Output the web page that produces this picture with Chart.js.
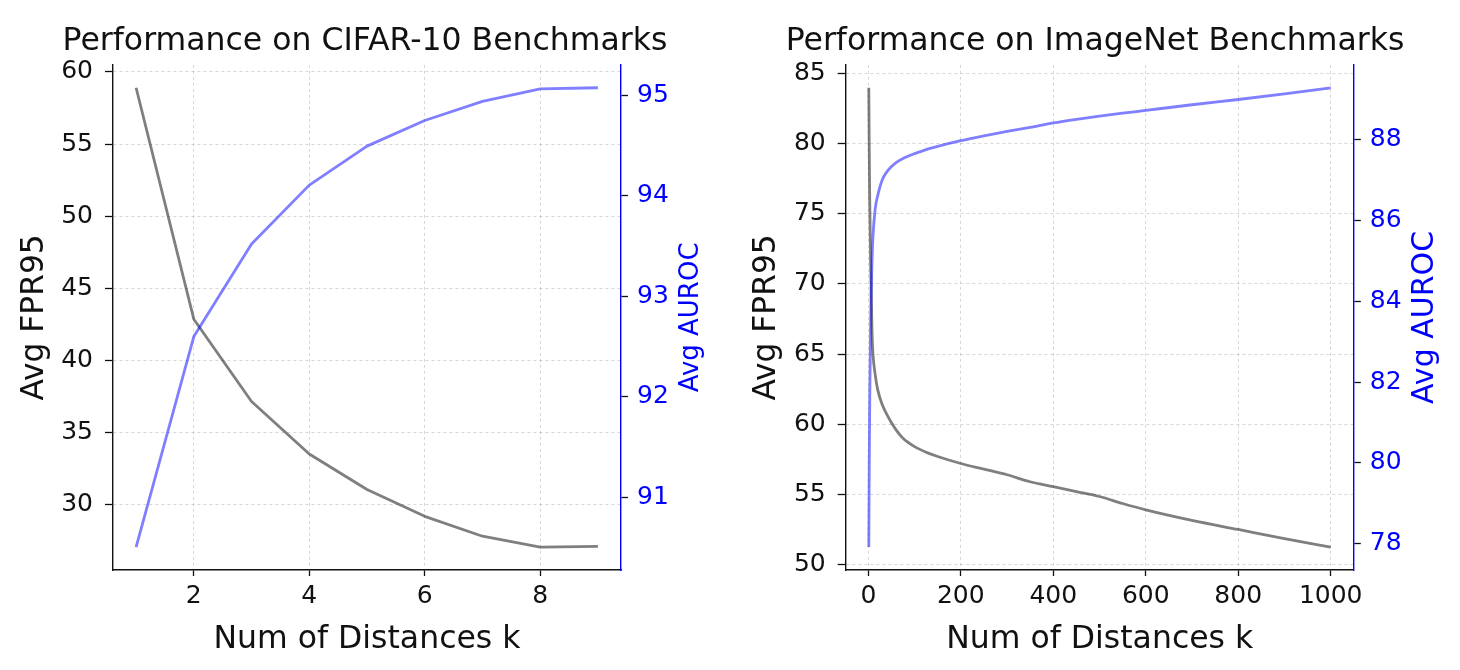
<!DOCTYPE html>
<html>
<head>
<meta charset="utf-8">
<script src="https://cdn.jsdelivr.net/npm/chart.js@4.4.1/dist/chart.umd.min.js"></script>
<style>
  html, body { margin: 0; padding: 0; background: #fff; }
  #wrap { display: flex; width: 1460px; height: 670px; }
  canvas { display: block; }
</style>
</head>
<body>
<div id="wrap">
  <canvas id="cifar" width="730" height="670"></canvas>
  <canvas id="imagenet" width="730" height="670"></canvas>
</div>
<script>
// CIFAR-10
const cifarK = [1, 2, 3, 4, 5, 6, 7, 8, 9];
const cifarFpr = [58.9, 42.85, 37.14, 33.5, 31.04, 29.18, 27.8, 27.05, 27.1];
const cifarAuroc = [90.505, 92.6, 93.52, 94.107, 94.495, 94.75, 94.94, 95.065, 95.076];
const cifarXTicks = [2, 4, 6, 8];
const cifarFprTicks = [30, 35, 40, 45, 50, 55, 60];
const cifarAurocTicks = [91, 92, 93, 94, 95];

// ImageNet
const imagenetK = [1, 2, 3, 5, 8, 10, 15, 20, 30, 40, 50, 60, 75, 100, 125, 150, 200, 250, 300, 350, 400, 450, 500, 550, 600, 700, 800, 900, 1000];
const imagenetFpr = [83.97, 79.5, 76.0, 71.5, 66.5, 65.0, 63.5, 62.5, 61.4, 60.7, 60.1, 59.6, 59.0, 58.4, 58.0, 57.7, 57.2, 56.8, 56.4, 55.9, 55.55, 55.2, 54.85, 54.35, 53.9, 53.15, 52.5, 51.85, 51.25];
const imagenetAuroc = [77.92, 80.0, 81.5, 83.5, 85.0, 85.6, 86.3, 86.6, 87.0, 87.2, 87.33, 87.43, 87.53, 87.65, 87.75, 87.83, 87.97, 88.09, 88.2, 88.3, 88.41, 88.5, 88.58, 88.65, 88.72, 88.86, 88.99, 89.13, 89.28];
const imagenetXTicks = [0, 200, 400, 600, 800, 1000];
const imagenetFprTicks = [50, 55, 60, 65, 70, 75, 80, 85];
const imagenetAurocTicks = [78, 80, 82, 84, 86, 88];

Chart.defaults.font.family = "'DejaVu Sans', sans-serif";
Chart.defaults.font.size = 25;
Chart.defaults.color = "#111";

const GRAY = "rgba(0,0,0,0.5)";
const BLUE_LINE = "rgba(0,0,255,0.5)";
const BLUE = "#0000ff";
const GRID = "rgba(0,0,0,0.2)";
const INK = "#111";

// same 5% margins matplotlib uses
function padRange(vals) {
  const lo = Math.min(...vals), hi = Math.max(...vals);
  const m = (hi - lo) * 0.05;
  return { min: lo - m, max: hi + m };
}

function fixedTicks(arr) {
  return (scale) => { scale.ticks = arr.map(v => ({ value: v })); };
}

// right y title reads bottom-to-top, like matplotlib
const rightTitle = {
  id: "rightTitle",
  afterDraw(chart, args, opts) {
    const { ctx, chartArea } = chart;
    ctx.save();
    ctx.translate(opts.x, (chartArea.top + chartArea.bottom) / 2);
    ctx.rotate(-Math.PI / 2);
    ctx.font = opts.size + "px 'DejaVu Sans', sans-serif";
    ctx.fillStyle = BLUE;
    ctx.textAlign = "center";
    ctx.textBaseline = "middle";
    ctx.fillText(opts.text, 0, 0);
    ctx.restore();
  }
};

function makeChart(id, s) {
  const xr = padRange(s.k), yr = padRange(s.fpr), y1r = padRange(s.auroc);
  // monotone smoothing for the dense ImageNet sweep, straight segments for CIFAR
  const interp = s.smooth ? "monotone" : "default";
  return new Chart(document.getElementById(id), {
    type: "line",
    data: {
      datasets: [
        {
          label: "Avg FPR95",
          data: s.k.map((k, i) => ({ x: k, y: s.fpr[i] })),
          yAxisID: "y",
          borderColor: GRAY,
          borderWidth: 2.8,
          borderJoinStyle: "round",
          cubicInterpolationMode: interp,
          pointRadius: 0,
          tension: 0,
          order: 2
        },
        {
          label: "Avg AUROC",
          data: s.k.map((k, i) => ({ x: k, y: s.auroc[i] })),
          yAxisID: "y1",
          borderColor: BLUE_LINE,
          borderWidth: 2.8,
          borderJoinStyle: "round",
          cubicInterpolationMode: interp,
          pointRadius: 0,
          tension: 0,
          order: 1
        }
      ]
    },
    options: {
      responsive: false,
      animation: false,
      layout: { padding: 0 },
      plugins: {
        legend: { display: false },
        tooltip: { enabled: false },
        title: {
          display: true,
          text: s.title,
          color: INK,
          font: { size: 31.5, weight: "normal" },
          padding: { top: 23, bottom: 4 }
        },
        rightTitle: { text: "Avg AUROC", x: s.rtX, size: s.rtSize }
      },
      scales: {
        x: {
          type: "linear",
          min: xr.min,
          max: xr.max,
          afterBuildTicks: fixedTicks(s.xTicks),
          afterFit: (sc) => { sc.height = 100; },
          grid: { color: GRID, lineWidth: 0.8, tickLength: 6, tickColor: INK, tickWidth: 1.3 },
          border: { color: INK, width: 1.4, dash: [3, 3] },
          ticks: { padding: 5, maxRotation: 0, callback: (v) => String(v) },
          title: {
            display: true,
            text: "Num of Distances k",
            color: INK,
            font: { size: 31.5 },
            padding: { top: 0, bottom: 11 }
          }
        },
        y: {
          position: "left",
          min: yr.min,
          max: yr.max,
          afterBuildTicks: fixedTicks(s.fprTicks),
          afterFit: (sc) => { sc.width = s.leftW; },
          grid: { color: GRID, lineWidth: 0.8, tickLength: 8, tickColor: INK, tickWidth: 1.3 },
          border: { color: INK, width: 1.4, dash: [3, 3] },
          ticks: { padding: 12, callback: (v) => String(v) },
          title: {
            display: true,
            text: "Avg FPR95",
            color: INK,
            font: { size: 31.3 },
            padding: { top: s.ltPad, bottom: 0 }
          }
        },
        y1: {
          position: "right",
          min: y1r.min,
          max: y1r.max,
          afterBuildTicks: fixedTicks(s.aurocTicks),
          afterFit: (sc) => { sc.width = s.rightW; },
          grid: { drawOnChartArea: false, color: GRID, tickLength: 7, tickColor: INK, tickWidth: 1.3 },
          border: { color: BLUE, width: 1.4 },
          ticks: { color: BLUE, padding: 9, callback: (v) => String(v) }
        }
      }
    },
    plugins: [rightTitle]
  });
}

makeChart("cifar", {
  title: "Performance on CIFAR-10 Benchmarks",
  k: cifarK, fpr: cifarFpr, auroc: cifarAuroc,
  xTicks: cifarXTicks, fprTicks: cifarFprTicks, aurocTicks: cifarAurocTicks,
  leftW: 113, rightW: 109, ltPad: 16, rtX: 691, rtSize: 26, smooth: false
});

makeChart("imagenet", {
  title: "Performance on ImageNet Benchmarks",
  k: imagenetK, fpr: imagenetFpr, auroc: imagenetAuroc,
  xTicks: imagenetXTicks, fprTicks: imagenetFprTicks, aurocTicks: imagenetAurocTicks,
  leftW: 115.7, rightW: 106.2, ltPad: 18, rtX: 695, rtSize: 30, smooth: true
});
</script>
</body>
</html>
